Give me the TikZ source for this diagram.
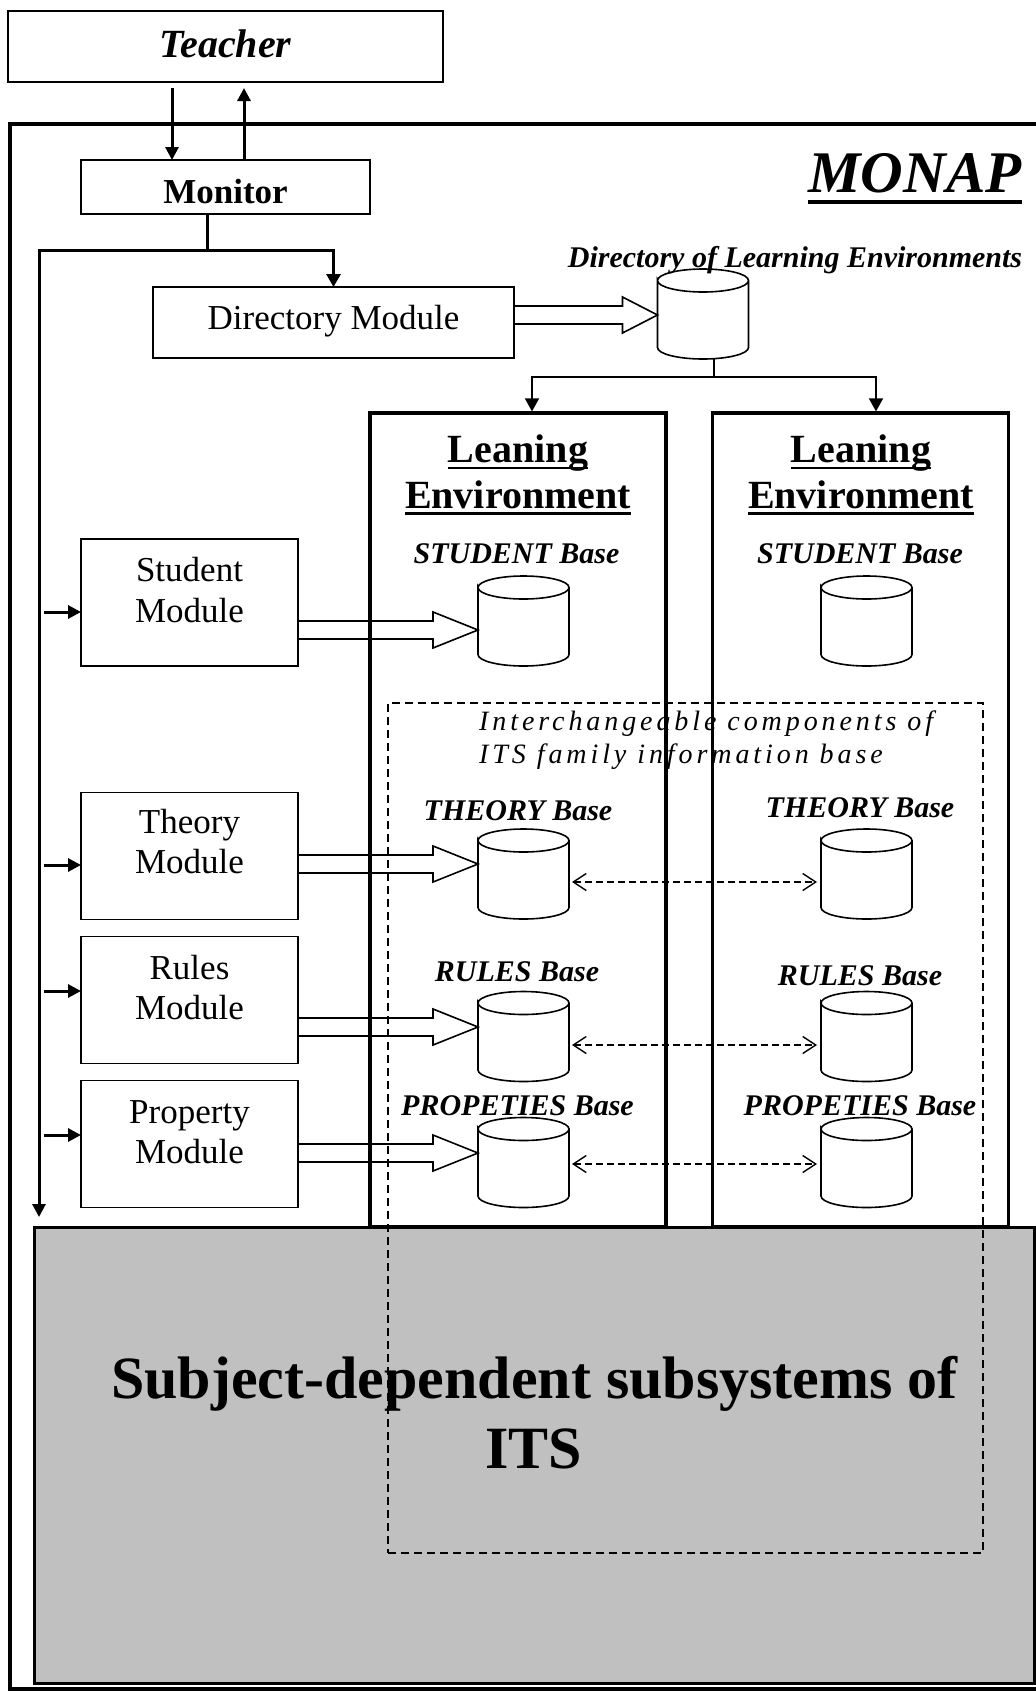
\documentclass[tikz,border=0pt]{standalone}
\usepackage{fontspec}
\setmainfont{Liberation Serif}
\newfontfamily\spacedfont[LetterSpace=14]{Liberation Serif}
\usetikzlibrary{arrows.meta,calc}
\definecolor{graybg}{RGB}{192,192,192}
\newcommand\fsz[1]{\fontsize{#1}{#1}\selectfont}
\newsavebox\ulbox
\newcommand\ulin[3]{\sbox\ulbox{#3}\rlap{\rule[#1]{\wd\ulbox}{#2}}\usebox\ulbox}
\newcommand\dbcyl[3]{%
  \node[cylnode] (#1) at (#2,#3) {};
  \draw[cylline] ([yshift=-11.5pt]#1.north west) arc[start angle=180,end angle=-180,x radius=45.5pt,y radius=11.5pt]
    -- ([yshift=11.5pt]#1.south west) arc[start angle=180,end angle=360,x radius=45.5pt,y radius=11.5pt]
    -- ([yshift=-11.5pt]#1.north east);
}
\newcommand\fatarrow[3]{%
  \draw[fatline] ($(#1)+(0,9)$) -- ($(#2)+(-#3,9)$) -- ($(#2)+(-#3,18)$) -- (#2)
    -- ($(#2)+(-#3,-18)$) -- ($(#2)+(-#3,-9)$) -- ($(#1)+(0,-9)$);
}
\begin{document}
\begin{tikzpicture}[x=1pt,y=1pt,
  box/.style={draw, line width=1.6pt, inner sep=0pt, outer sep=0pt},
  modbox/.style={box, minimum width=217pt, minimum height=127pt},
  modtxt/.style={inner sep=0pt, anchor=base, font=\fsz{35}},
  txt/.style={inner sep=0pt, anchor=base},
  baselab/.style={txt, font=\bfseries\itshape\fsz{30}},
  titletxt/.style={txt, font=\bfseries\fsz{40}},
  lebox/.style={draw, line width=3.2pt, minimum width=296pt, minimum height=814pt, inner sep=0pt},
  cylnode/.style={minimum width=91pt, minimum height=90pt, inner sep=0pt, outer sep=0pt},
  cylline/.style={line width=1.6pt},
  fatline/.style={line width=1.6pt, line join=miter},
  arr/.style={line width=3pt, -{Triangle[length=13pt,width=13pt]}},
  thinarr/.style={line width=1.6pt, -{Triangle[length=13pt,width=14pt]}},
  dasharr/.style={line width=1.4pt, dash pattern=on 7pt off 4pt,
     {Straight Barb[length=13pt,width=17pt]}-{Straight Barb[length=13pt,width=17pt]}},
  dashbox/.style={draw, line width=1.3pt, dash pattern=on 8pt off 5pt, minimum width=595pt, minimum height=850pt, inner sep=0pt}
]
\useasboundingbox (0,0) rectangle (1036,-1692);
\clip (0,0) rectangle (1036,-1692);
\fill[white] (0,0) rectangle (1036,-1692);

% level coordinates
\coordinate (yD) at (0,-315);
\coordinate (yS) at (0,-630);
\coordinate (yT) at (0,-864);
\coordinate (yR) at (0,-1027);
\coordinate (yP) at (0,-1153);
\coordinate (ySa) at (0,-612);
\coordinate (yTa) at (0,-865);
\coordinate (yRa) at (0,-991);
\coordinate (yPa) at (0,-1135);
\coordinate (yTd) at (0,-882);
\coordinate (yRd) at (0,-1045);
\coordinate (yPd) at (0,-1164);
\coordinate (xd) at (172,0);
\coordinate (xu) at (244,0);
\coordinate (j0) at (39,-250);
\coordinate (j1) at (207,-250);
\coordinate (lend) at (39,-1217);
\coordinate (j2) at (714,-377);
\coordinate (t1) at (532,0);
\coordinate (t2) at (876,0);

% MONAP frame
\node[draw, line width=4.5pt, minimum width=1040pt, minimum height=1565pt, inner sep=0pt] (monap) at (530,-906.5) {};
\node[txt, font=\bfseries\itshape\fsz{59}] (monapt) at (915,-192) {\ulin{-11.8pt}{3.6pt}{MONAP}};

% Teacher and Monitor
\node[box, minimum width=435pt, minimum height=71pt, font=\bfseries\itshape\fsz{40}, text height=21.6pt, text depth=0pt] (tch) at (225.5,-46.5) {Teacher};
\node[box, minimum width=289pt, minimum height=54pt, font=\bfseries\fsz{35}, text height=32pt, text depth=0pt] (mon) at (225.5,-187) {Monitor};
\draw[arr, shorten <=6pt] (tch.south -| xd) -- (mon.north -| xd);
\draw[arr, shorten >=6pt] (mon.north -| xu) -- (tch.south -| xu);

% Directory module
\node[box, minimum width=361pt, minimum height=71pt, font=\fsz{35}, text height=20pt, text depth=6.4pt] (dm) at (333.5,-322.5) {Directory Module};
\draw[line width=3pt] (mon.south -| j1) -- (j1);
\draw[line width=3pt, {Triangle[length=13pt,width=14pt]}-{Triangle[length=13pt,width=13pt]}] (dm.north) -- (dm.north |- j0) -- (j0) -- (lend);

% Directory of learning environments
\dbcyl{dc}{703}{-314}
\node[baselab] (dclab) at (795,-267) {Directory of Learning Environments};
\fatarrow{dm.east |- yD}{dc.west |- yD}{35}

% Learning environment boxes
\node[lebox] (le1) at (518,-820) {};
\node[lebox] (le2) at (860.5,-820) {};
\draw[line width=1.6pt] (dc.south -| j2) -- (j2);
\draw[thinarr] (j2) -| (le1.north -| t1);
\draw[thinarr] (j2) -| (le2.north -| t2);
\node[titletxt] (l1a) at (518,-462) {\ulin{-7pt}{2.5pt}{Leaning}};
\node[titletxt] (l1b) at (518,-508) {\ulin{-6.6pt}{2.5pt}{Environment}};
\node[titletxt] (l2a) at (861,-462) {\ulin{-7pt}{2.5pt}{Leaning}};
\node[titletxt] (l2b) at (861,-508) {\ulin{-6.6pt}{2.5pt}{Environment}};

% Modules
\node[modbox] (sm) at (189.5,-602.5) {};
\node[modtxt] (sm1) at (189.5,-581) {Student};
\node[modtxt] (sm2) at (189.5,-622) {Module};
\node[modbox] (tm) at (189.5,-856) {};
\node[modtxt] (tm1) at (189.5,-833) {Theory};
\node[modtxt] (tm2) at (189.5,-873) {Module};
\node[modbox] (rm) at (189.5,-1000) {};
\node[modtxt] (rm1) at (189.5,-979) {Rules};
\node[modtxt] (rm2) at (189.5,-1019) {Module};
\node[modbox] (pm) at (189.5,-1144) {};
\node[modtxt] (pm1) at (189.5,-1123) {Property};
\node[modtxt] (pm2) at (189.5,-1163) {Module};

\draw[arr, shorten <=5pt] (lend |- ySa) -- (sm.west |- ySa);
\draw[arr, shorten <=5pt] (lend |- yTa) -- (tm.west |- yTa);
\draw[arr, shorten <=5pt] (lend |- yRa) -- (rm.west |- yRa);
\draw[arr, shorten <=5pt] (lend |- yPa) -- (pm.west |- yPa);

% Bases
\dbcyl{sc1}{523.5}{-621}
\dbcyl{sc2}{866.5}{-621}
\dbcyl{tc1}{523.5}{-874}
\dbcyl{tc2}{866.5}{-874}
\dbcyl{rc1}{523.5}{-1036.5}
\dbcyl{rc2}{866.5}{-1036.5}
\dbcyl{pc1}{523.5}{-1162.5}
\dbcyl{pc2}{866.5}{-1162.5}

\node[baselab] (sl1) at (516.5,-563) {STUDENT Base};
\node[baselab] (sl2) at (860,-563) {STUDENT Base};
\node[baselab] (tl1) at (518,-820) {THEORY Base};
\node[baselab] (tl2) at (860,-817) {THEORY Base};
\node[baselab] (rl1) at (517,-981.5) {RULES Base};
\node[baselab] (rl2) at (860,-985) {RULES Base};
\node[baselab] (pl1) at (517.5,-1115) {PROPETIES Base};
\node[baselab] (pl2) at (860,-1115) {PROPETIES Base};

\fatarrow{sm.east |- yS}{sc1.west |- yS}{45}
\fatarrow{tm.east |- yT}{tc1.west |- yT}{45}
\fatarrow{rm.east |- yR}{rc1.west |- yR}{45}
\fatarrow{pm.east |- yP}{pc1.west |- yP}{45}

\draw[dasharr, shorten <=3pt, shorten >=4pt] (tc1.east |- yTd) -- (tc2.west |- yTd);
\draw[dasharr, shorten <=3pt, shorten >=4pt] (rc1.east |- yRd) -- (rc2.west |- yRd);
\draw[dasharr, shorten <=3pt, shorten >=4pt] (pc1.east |- yPd) -- (pc2.west |- yPd);

\node[txt, anchor=base west, font=\spacedfont\itshape\fsz{28}] (ic1) at (479,-730) {Interchangeable components of};
\node[txt, anchor=base west, font=\spacedfont\itshape\fsz{28}] (ic2) at (479,-763) {ITS family information base};

% Subject-dependent subsystems
\node[draw, fill=graybg, line width=3pt, minimum width=1000pt, minimum height=456pt, inner sep=0pt] (sub) at (534,-1455.5) {};
\node[txt, font=\bfseries\fsz{60}] (sub1) at (534.5,-1398) {Subject-dependent subsystems of};
\node[txt, font=\bfseries\fsz{60}] (sub2) at (534,-1468) {ITS};

% Interchangeable components frame
\node[dashbox] (icbox) at (685.5,-1128) {};
\end{tikzpicture}
\end{document}
